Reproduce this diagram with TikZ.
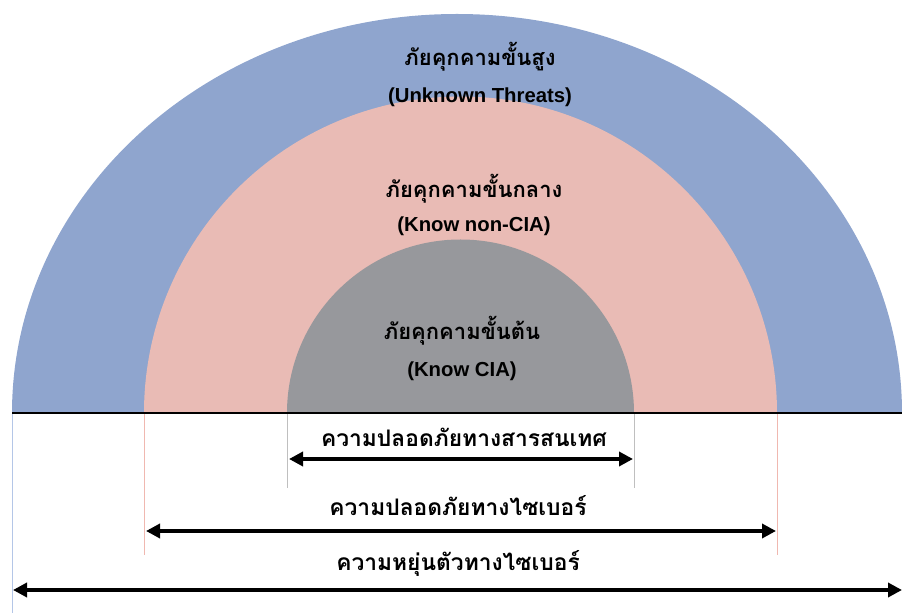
\documentclass[tikz,border=0pt]{standalone}
\usepackage{fontspec}
\usetikzlibrary{arrows.meta}
\newfontfamily\thaifont[Script=Thai]{Loma}
\newfontfamily\latinfont{Liberation Sans}
\definecolor{outerblue}{RGB}{143,165,206}
\definecolor{midpink}{RGB}{233,187,181}
\definecolor{innergray}{RGB}{151,152,156}
\definecolor{baseline}{RGB}{63,70,86}
\definecolor{lineblue}{RGB}{180,198,231}
\definecolor{linepink}{RGB}{240,184,176}
\definecolor{linegray}{RGB}{191,191,191}
\tikzset{
  thai/.style={font=\thaifont\bfseries\fontsize{22}{26}\selectfont, inner sep=0pt, anchor=center},
  thaibig/.style={font=\thaifont\bfseries\fontsize{22.8}{26}\selectfont, inner sep=0pt, anchor=center},
  latin/.style={font=\latinfont\bfseries\fontsize{20.3}{24}\selectfont, inner sep=0pt, anchor=center},
  span/.style={line width=3.5pt, {Triangle[length=14pt,width=14pt]}-{Triangle[length=14pt,width=14pt]}, shorten <=0pt, shorten >=0pt},
  guide/.style={line width=1pt}
}
\begin{document}
\begin{tikzpicture}[x=1pt,y=1pt]
\useasboundingbox (0,0) rectangle (902,613);
% rings
\fill[outerblue] (12,200) arc[start angle=180,end angle=0,x radius=445,y radius=399] -- cycle;
\fill[midpink] (144,200) arc[start angle=180,end angle=0,radius=316.5] -- cycle;
\fill[innergray] (287,200) arc[start angle=180,end angle=0,radius=173.5] -- cycle;
% guide lines
\coordinate (bl) at (12,200);
\coordinate (br) at (902,200);
\coordinate (bL) at (12,0);
\coordinate (pl) at (144,200);
\coordinate (pL) at (144,58);
\coordinate (pr) at (777,200);
\coordinate (pR) at (777,58);
\coordinate (gl) at (287,200);
\coordinate (gL) at (287,125);
\coordinate (gr) at (634,200);
\coordinate (gR) at (634,125);
\draw[guide,lineblue] (bl) -- (bL);
\draw[guide,linepink] (pl) -- (pL);
\draw[guide,linepink] (pr) -- (pR);
\draw[guide,linegray] (gl) -- (gL);
\draw[guide,linegray] (gr) -- (gR);
\draw[line width=1.2pt,baseline] (bl) -- (br);
% arrows
\coordinate (a1l) at (289,154);
\coordinate (a1r) at (633,154);
\coordinate (a2l) at (146,82);
\coordinate (a2r) at (776,82);
\coordinate (a3l) at (13,23);
\coordinate (a3r) at (902,23);
\draw[span] (a1l) -- (a1r);
\draw[span] (a2l) -- (a2r);
\draw[span] (a3l) -- (a3r);
% labels
\node[thai] (t1) at (480,556) {ภัยคุกคามขั้นสูง};
\node[latin] (e1) at (480,516) {(Unknown Threats)};
\node[thai] (t2) at (474,424) {ภัยคุกคามขั้นกลาง};
\node[latin] (e2) at (474,387) {(Know non-CIA)};
\node[thai] (t3) at (462,282) {ภัยคุกคามขั้นต้น};
\node[latin] (e3) at (462,242) {(Know CIA)};
\node[thaibig] (s1) at (464,176) {ความปลอดภัยทางสารสนเทศ};
\node[thaibig] (s2) at (458,107) {ความปลอดภัยทางไซเบอร์};
\node[thaibig] (s3) at (458,50) {ความหยุ่นตัวทางไซเบอร์};
\end{tikzpicture}
\end{document}
